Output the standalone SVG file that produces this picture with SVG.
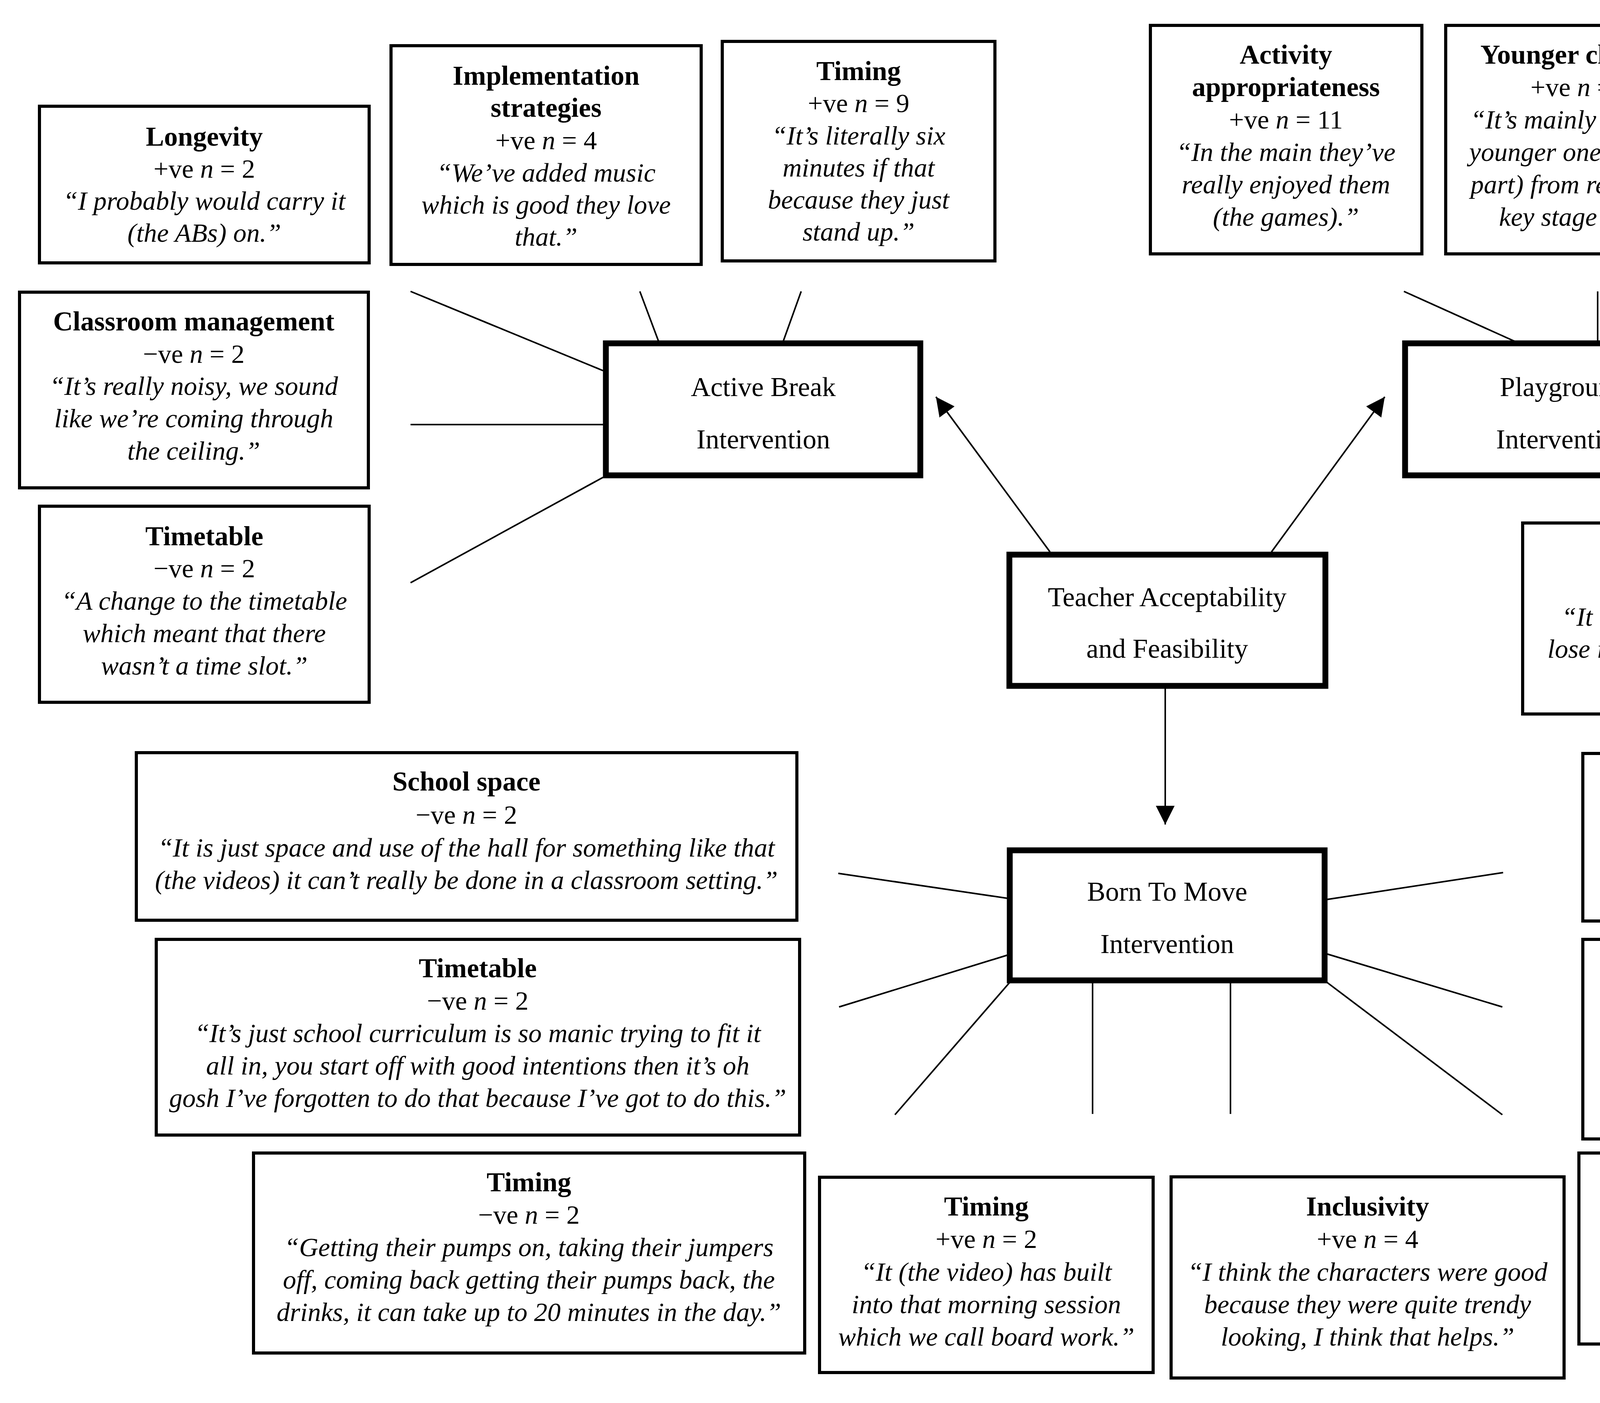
<svg xmlns="http://www.w3.org/2000/svg" width="6280" height="3592" viewBox="0 0 6280 3592">
<style>
.box{fill:#fff;stroke:#000;stroke-width:8}
.hub{fill:#fff;stroke:#000;stroke-width:15}
text{font-family:"Liberation Serif","Times New Roman",serif;font-size:68px;text-anchor:middle;fill:#000}
.t{font-weight:bold;font-size:70px}
.q{font-style:italic}
.i{font-style:italic}
.h{font-size:70px}
.c{stroke:#000;stroke-width:4;fill:none}
.a{stroke:#000;stroke-width:4;fill:none;marker-end:url(#ah)}
</style>
<defs>
<marker id="ah" markerUnits="userSpaceOnUse" markerWidth="50" markerHeight="50" viewBox="0 0 50 50" refX="48" refY="25" orient="auto">
<path d="M0,1 L48,25 L0,49 z" fill="#000"/>
</marker>
</defs>
<rect width="6280" height="3592" fill="#fff"/>
<g id="connectors">
<path class="c" d="M1051,746 L1544,949"/>
<path class="c" d="M1051,1087 L1544,1087"/>
<path class="c" d="M1051,1492 L1544,1222"/>
<path class="c" d="M1638,746 L1686,874"/>
<path class="c" d="M2051,746 L2005,874"/>
<path class="c" d="M3594,746 L3878,874"/>
<path class="c" d="M4090,746 L4090,874"/>
<path class="c" d="M4448,746 L4354,874"/>
<path class="c" d="M4411,946 L5150,746"/>
<path class="c" d="M4411,1014 L5051,1014"/>
<path class="c" d="M4411,1154 L5050,1284"/>
<path class="c" d="M4348,1222 L4348,1289"/>
<path class="c" d="M2146,2236 L2580,2300"/>
<path class="c" d="M2148,2578 L2580,2445"/>
<path class="c" d="M2291,2854 L2585,2515"/>
<path class="c" d="M2797,2515 L2797,2852"/>
<path class="c" d="M3150,2515 L3150,2852"/>
<path class="c" d="M3393,2512 L3846,2854"/>
<path class="c" d="M3396,2442 L3846,2578"/>
<path class="c" d="M3396,2303 L3848,2234"/>
<path class="a" d="M2688,1413 L2396,1016"/>
<path class="a" d="M3255,1413 L3545,1016"/>
<path class="a" d="M2983,1763 L2983,2111"/>
</g>
<g id="active-break">
<rect class="hub" x="1551" y="879" width="805" height="338"/>
<text class="h"><tspan x="1954" y="1014">Active Break</tspan><tspan x="1954" y="1148">Intervention</tspan></text>
</g>
<g id="playground">
<rect class="hub" x="3597" y="879" width="809" height="338"/>
<text class="h"><tspan x="4001" y="1014">Playground</tspan><tspan x="4001" y="1148">Intervention</tspan></text>
</g>
<g id="teacher-acceptability">
<rect class="hub" x="2584" y="1420" width="809" height="336"/>
<text class="h"><tspan x="2988" y="1552">Teacher Acceptability</tspan><tspan x="2988" y="1684">and Feasibility</tspan></text>
</g>
<g id="born-to-move">
<rect class="hub" x="2585" y="2177" width="806" height="333"/>
<text class="h"><tspan x="2988" y="2306">Born To Move</tspan><tspan x="2988" y="2440">Intervention</tspan></text>
</g>
<g id="ab-longevity">
<rect class="box" x="101" y="272" width="844" height="401"/>
<text><tspan class="t" x="523" y="373">Longevity</tspan><tspan x="523" y="455">+ve <tspan class="i">n</tspan> = 2</tspan><tspan class="q" x="523" y="537">“I probably would carry it</tspan><tspan class="q" x="523" y="619">(the ABs) on.”</tspan></text>
</g>
<g id="ab-implementation">
<rect class="box" x="1001" y="117" width="794" height="560"/>
<text><tspan class="t" x="1398" y="217">Implementation</tspan><tspan class="t" x="1398" y="299">strategies</tspan><tspan x="1398" y="382">+ve <tspan class="i">n</tspan> = 4</tspan><tspan class="q" x="1398" y="465">“We’ve added music</tspan><tspan class="q" x="1398" y="547">which is good they love</tspan><tspan class="q" x="1398" y="629">that.”</tspan></text>
</g>
<g id="ab-timing">
<rect class="box" x="1849" y="106" width="698" height="562"/>
<text><tspan class="t" x="2198" y="205">Timing</tspan><tspan x="2198" y="287">+ve <tspan class="i">n</tspan> = 9</tspan><tspan class="q" x="2198" y="370">“It’s literally six</tspan><tspan class="q" x="2198" y="452">minutes if that</tspan><tspan class="q" x="2198" y="534">because they just</tspan><tspan class="q" x="2198" y="616">stand up.”</tspan></text>
</g>
<g id="ab-classroom">
<rect class="box" x="50" y="748" width="893" height="501"/>
<text><tspan class="t" x="496" y="846">Classroom management</tspan><tspan x="496" y="929">−ve <tspan class="i">n</tspan> = 2</tspan><tspan class="q" x="496" y="1011">“It’s really noisy, we sound</tspan><tspan class="q" x="496" y="1094">like we’re coming through</tspan><tspan class="q" x="496" y="1177">the ceiling.”</tspan></text>
</g>
<g id="ab-timetable">
<rect class="box" x="101" y="1296" width="844" height="502"/>
<text><tspan class="t" x="523" y="1396">Timetable</tspan><tspan x="523" y="1478">−ve <tspan class="i">n</tspan> = 2</tspan><tspan class="q" x="523" y="1561">“A change to the timetable</tspan><tspan class="q" x="523" y="1644">which meant that there</tspan><tspan class="q" x="523" y="1727">wasn’t a time slot.”</tspan></text>
</g>
<g id="pg-activity">
<rect class="box" x="2945" y="65" width="695" height="585"/>
<text><tspan class="t" x="3292" y="163">Activity</tspan><tspan class="t" x="3292" y="246">appropriateness</tspan><tspan x="3292" y="329">+ve <tspan class="i">n</tspan> = 11</tspan><tspan class="q" x="3292" y="412">“In the main they’ve</tspan><tspan class="q" x="3292" y="495">really enjoyed them</tspan><tspan class="q" x="3292" y="578">(the games).”</tspan></text>
</g>
<g id="pg-younger">
<rect class="box" x="3701" y="65" width="694" height="585"/>
<text><tspan class="t" x="4048" y="163">Younger children</tspan><tspan x="4048" y="246">+ve <tspan class="i">n</tspan> = 5</tspan><tspan class="q" x="4048" y="329">“It’s mainly been the</tspan><tspan class="q" x="4048" y="412">younger ones (taking</tspan><tspan class="q" x="4048" y="495">part) from reception,</tspan><tspan class="q" x="4048" y="578">key stage one.”</tspan></text>
</g>
<g id="pg-older">
<rect class="box" x="4457" y="65" width="693" height="585"/>
<text><tspan class="t" x="4803" y="163">Older children</tspan><tspan x="4803" y="246">−ve <tspan class="i">n</tspan> = 19</tspan><tspan class="q" x="4803" y="329">“The older ones they</tspan><tspan class="q" x="4803" y="412">don’t really want to</tspan><tspan class="q" x="4803" y="495">be supervised.”</tspan></text>
</g>
<g id="pg-behaviour-pos">
<rect class="box" x="5213" y="159" width="912" height="531"/>
<text><tspan class="t" x="5669" y="256">Behaviour</tspan><tspan x="5669" y="340">+ve <tspan class="i">n</tspan> = 5</tspan><tspan class="q" x="5669" y="424">“If they’re doing an activity</tspan><tspan class="q" x="5669" y="507">there’s no behaviour issues</tspan><tspan class="q" x="5669" y="591">or there’s a lower rate.”</tspan></text>
</g>
<g id="pg-behaviour-neg">
<rect class="box" x="5200" y="727" width="1011" height="572"/>
<text><tspan class="t" x="5705" y="825">Behaviour</tspan><tspan x="5705" y="909">−ve <tspan class="i">n</tspan> = 2</tspan><tspan class="q" x="5705" y="992">“The hoop relay is another one,</tspan><tspan class="q" x="5705" y="1075">we had problems with that</tspan><tspan class="q" x="5705" y="1158">because they were hitting each</tspan><tspan class="q" x="5705" y="1241">other with hoops.”</tspan></text>
</g>
<g id="pg-environment">
<rect class="box" x="5200" y="1338" width="1005" height="506"/>
<text><tspan class="t" x="5702" y="1436">Playground environment</tspan><tspan x="5702" y="1519">−ve <tspan class="i">n</tspan> = 2</tspan><tspan class="q" x="5702" y="1602">“It’s space for certain thing as</tspan><tspan class="q" x="5702" y="1684">well because you’ve kind of got</tspan><tspan class="q" x="5702" y="1767">all sorts going on.”</tspan></text>
</g>
<g id="pg-capacity">
<rect class="box" x="3898" y="1339" width="1244" height="489"/>
<text><tspan class="t" x="4520" y="1436">Capacity</tspan><tspan x="4520" y="1519">−ve <tspan class="i">n</tspan> = 10</tspan><tspan class="q" x="4520" y="1602">“It has to be adult lead otherwise they</tspan><tspan class="q" x="4520" y="1684">lose interest or there’s a lot of arguing or</tspan><tspan class="q" x="4520" y="1767">they just don’t want to do it.”</tspan></text>
</g>
<g id="btm-longevity-pos">
<rect class="box" x="4052" y="1929" width="1135" height="429"/>
<text><tspan class="t" x="4620" y="2026">Longevity</tspan><tspan x="4620" y="2109">+ve <tspan class="i">n</tspan> = 1</tspan><tspan class="q" x="4620" y="2192">“It (the videos) would be used at least</tspan><tspan class="q" x="4620" y="2275">three to four times a week.”</tspan></text>
</g>
<g id="btm-longevity-neg">
<rect class="box" x="4052" y="2405" width="1135" height="511"/>
<text><tspan class="t" x="4620" y="2502">Longevity</tspan><tspan x="4620" y="2585">−ve <tspan class="i">n</tspan> = 1</tspan><tspan class="q" x="4620" y="2668">“I think it’s (using the videos) a</tspan><tspan class="q" x="4620" y="2751">really good idea but I think it needs to</tspan><tspan class="q" x="4620" y="2834">be something they could do in class.”</tspan></text>
</g>
<g id="btm-inclusivity-neg">
<rect class="box" x="4042" y="2952" width="1021" height="489"/>
<text><tspan class="t" x="4552" y="3050">Inclusivity</tspan><tspan x="4552" y="3133">−ve <tspan class="i">n</tspan> = 1</tspan><tspan class="q" x="4552" y="3216">“Mumbo Jumbo, I think that was</tspan><tspan class="q" x="4552" y="3299">quite a young video, I just didn’t</tspan><tspan class="q" x="4552" y="3382">find it was very high resistance.”</tspan></text>
</g>
<g id="btm-inclusivity-pos">
<rect class="box" x="2998" y="3013" width="1006" height="515"/>
<text><tspan class="t" x="3501" y="3112">Inclusivity</tspan><tspan x="3501" y="3195">+ve <tspan class="i">n</tspan> = 4</tspan><tspan class="q" x="3501" y="3279">“I think the characters were good</tspan><tspan class="q" x="3501" y="3362">because they were quite trendy</tspan><tspan class="q" x="3501" y="3445">looking, I think that helps.”</tspan></text>
</g>
<g id="btm-timing-pos">
<rect class="box" x="2098" y="3014" width="854" height="500"/>
<text><tspan class="t" x="2525" y="3112">Timing</tspan><tspan x="2525" y="3195">+ve <tspan class="i">n</tspan> = 2</tspan><tspan class="q" x="2525" y="3279">“It (the video) has built</tspan><tspan class="q" x="2525" y="3362">into that morning session</tspan><tspan class="q" x="2525" y="3445">which we call board work.”</tspan></text>
</g>
<g id="btm-timing-neg">
<rect class="box" x="649" y="2952" width="1411" height="512"/>
<text><tspan class="t" x="1354" y="3050">Timing</tspan><tspan x="1354" y="3133">−ve <tspan class="i">n</tspan> = 2</tspan><tspan class="q" x="1354" y="3216">“Getting their pumps on, taking their jumpers</tspan><tspan class="q" x="1354" y="3299">off, coming back getting their pumps back, the</tspan><tspan class="q" x="1354" y="3382">drinks, it can take up to 20 minutes in the day.”</tspan></text>
</g>
<g id="btm-timetable">
<rect class="box" x="400" y="2405" width="1647" height="501"/>
<text><tspan class="t" x="1223" y="2502">Timetable</tspan><tspan x="1223" y="2585">−ve <tspan class="i">n</tspan> = 2</tspan><tspan class="q" x="1223" y="2668">“It’s just school curriculum is so manic trying to fit it</tspan><tspan class="q" x="1223" y="2751">all in, you start off with good intentions then it’s oh</tspan><tspan class="q" x="1223" y="2834">gosh I’ve forgotten to do that because I’ve got to do this.”</tspan></text>
</g>
<g id="btm-school-space">
<rect class="box" x="349" y="1927" width="1691" height="429"/>
<text><tspan class="t" x="1194" y="2024">School space</tspan><tspan x="1194" y="2109">−ve <tspan class="i">n</tspan> = 2</tspan><tspan class="q" x="1194" y="2193">“It is just space and use of the hall for something like that</tspan><tspan class="q" x="1194" y="2276">(the videos) it can’t really be done in a classroom setting.”</tspan></text>
</g>
</svg>
